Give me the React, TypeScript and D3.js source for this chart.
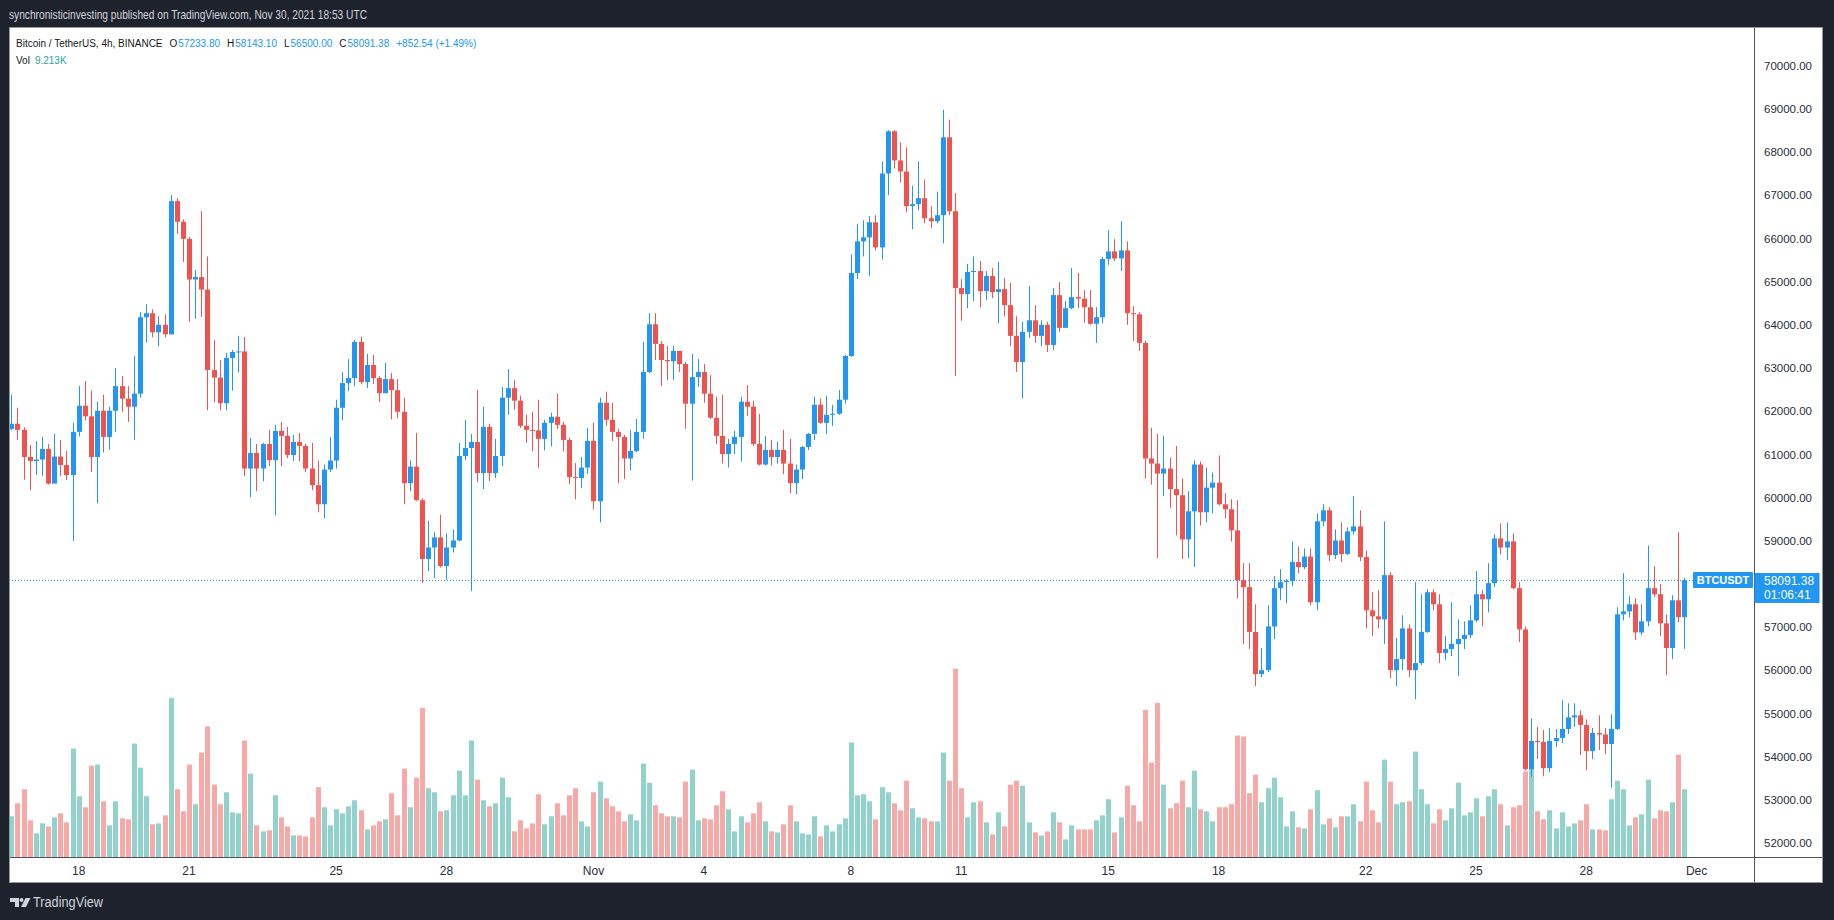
import React, { useEffect, useRef } from 'react';
import * as d3 from 'd3';

// BTC/USDT 4h bars from BINANCE, first bar Oct 16 2021 04:00 UTC, last bar Nov 30 16:00 UTC
const startTime = Date.UTC(2021, 9, 16, 4);
const barMs = 4 * 3600 * 1000;

const closes = [
  61711, 61571, 60943, 60849, 60884, 61129, 60326, 60954, 60756, 60524,
  61525, 62130, 61885, 60943, 62013, 61408, 62013, 62584, 62293, 62107,
  62409, 64179, 64272, 63829, 64004, 63783, 66867, 66390, 65994, 65052,
  65110, 64819, 62956, 62782, 62188, 63236, 63375, 63387, 60675, 61036,
  60675, 61245, 60873, 61548, 61431, 60989, 61292, 61199, 60675, 60291,
  59848, 60652, 60861, 62083, 62654, 62770, 63608, 62677, 63073, 62770,
  62421, 62747, 62491, 61990, 60337, 60721, 59942, 58580, 58847, 59080,
  58417, 58847, 59010, 60966, 61152, 61292, 60570, 61641, 60570, 60966,
  62316, 62537, 62246, 61664, 61571, 61560, 61362, 61734, 61874, 61688,
  61338, 60477, 60454, 60698, 61315, 59918, 62200, 61804, 61525, 61408,
  60908, 61082, 61525, 62910, 64016, 63562, 63189, 63160, 63399, 63096,
  62176, 62793, 62910, 62409, 61851, 61431, 61012, 61245, 61408, 62223,
  62107, 61245, 60768, 61106, 60943, 61106, 60791, 60337, 60652, 61175,
  61478, 62153, 61734, 61920, 61944, 62270, 63282, 65203, 65936, 66029,
  66378, 65796, 67508, 68485, 67810, 67554, 66751, 66798, 66937, 66472,
  66402, 66541, 68346, 66635, 64854, 64714, 65226, 65249, 64784, 65133,
  64761, 64830, 64458, 63748, 63143, 63841, 64109, 63748, 64004, 63538,
  64691, 63934, 64388, 64644, 64609, 64411, 64027, 64179, 65529, 65703,
  65540, 65727, 64272, 64248, 63585, 60908, 60791, 60558, 60675, 60198,
  60058, 59034, 59685, 60768, 59662, 60233, 60349, 59848, 59732, 59243,
  58091, 57928, 56892, 55914, 56007, 57020, 57905, 58044, 58068, 58510,
  58393, 58638, 57579, 59453, 59709, 58673, 59010, 58696, 59220, 59336,
  58626, 57392, 57253, 57183, 58207, 56007, 56263, 56973, 56007, 56170,
  56892, 57811, 57532, 56403, 56496, 56612, 56729, 56822, 57160, 57765,
  57648, 58021, 59057, 58847, 58987, 57905, 56950, 53714, 54366, 54343,
  53737, 54366, 54436, 54645, 54913, 54960, 54738, 54133, 54552, 54517,
  54296, 54645, 57299, 57369, 57532, 56880, 57136, 57905, 57765, 57090,
  56519, 57625, 57233.8, 58091.38,
];

const highs = [
  62386, 62083, 61629, 61222, 61315, 61408, 61245, 61478, 61338, 61082,
  61734, 62584, 62700, 62479, 62223, 62386, 62107, 63003, 62817, 62584,
  63282, 64295, 64481, 64365, 64202, 64248, 67007, 66937, 66448, 66041,
  65273, 66635, 65587, 63655, 63189, 63352, 63422, 63748, 63725, 61385,
  61245, 61269, 61571, 61688, 61757, 61641, 61455, 61501, 61245, 61269,
  60861, 60768, 61408, 62270, 62910, 63212, 63655, 63725, 63329, 63306,
  62817, 63119, 62886, 62747, 62316, 60861, 61501, 59988, 59464, 59197,
  59604, 59173, 59266, 61269, 61804, 61478, 62491, 62107, 61711, 61362,
  62561, 62980, 62724, 62363, 61920, 61990, 62270, 61804, 61967, 62409,
  61757, 61385, 60803, 60943, 61618, 61734, 62316, 62456, 62200, 61594,
  61455, 61571, 61827, 63608, 64272, 64272, 63631, 63515, 63515, 63399,
  63143, 63329, 63212, 63096, 62840, 62339, 62386, 61362, 61548, 62339,
  62607, 62246, 61944, 61431, 61338, 61292, 61571, 61362, 60768, 61199,
  61501, 62339, 62293, 62363, 62153, 62491, 63306, 65634, 66332, 66425,
  66518, 66541, 67787, 68509, 68509, 68229, 68113, 67228, 67787, 67368,
  66751, 67089, 68986, 68753, 67054, 65063, 65412, 65587, 65482, 65249,
  65319, 65459, 65086, 64970, 64202, 64074, 64900, 64458, 64109, 64074,
  64854, 64993, 64551, 65319, 65203, 64807, 64807, 64411, 65575, 66192,
  65983, 66402, 65936, 64435, 64295, 63631, 61618, 61478, 61431, 60931,
  61199, 60442, 60151, 60861, 60838, 60698, 60582, 60978, 60105, 59965,
  59942, 58486, 58486, 57532, 56519, 57509, 58184, 58347, 58114, 58987,
  58871, 58824, 58824, 59639, 59848, 59779, 59266, 59429, 59313, 60035,
  59709, 58777, 57811, 57858, 59453, 58277, 56752, 57276, 57066, 58044,
  57765, 57881, 57881, 57765, 56799, 57579, 57183, 57136, 57509, 58300,
  57858, 58486, 59150, 59406, 59429, 59173, 58044, 57020, 54890, 54692,
  54622, 54669, 54645, 55309, 55239, 55239, 55076, 54867, 54669, 54960,
  54669, 54983, 57462, 58254, 57718, 57672, 57532, 58894, 58417, 57998,
  57299, 57742, 59197, 58143.1,
];

const lows = [
  61560, 61338, 60419, 60174, 60524, 60500, 60302, 60337, 60500, 60407,
  58999, 61420, 61792, 60593, 59872, 61047, 61117, 61525, 61990, 61757,
  61338, 62316, 63597, 63713, 63503, 63713, 63783, 66111, 65459, 64074,
  64144, 64190, 62025, 62211, 62025, 62025, 62479, 62898, 60500, 60011,
  60151, 60384, 60733, 59592, 60733, 60919, 60849, 60849, 60593, 60174,
  59662, 59522, 60593, 60675, 61792, 62467, 62584, 62630, 62537, 62630,
  62211, 62421, 61816, 61839, 59848, 60151, 59930, 58021, 58300, 58137,
  58382, 58091, 58731, 58987, 60873, 57835, 60361, 60198, 60384, 60454,
  60733, 61920, 62037, 61618, 61269, 61071, 60698, 61094, 61187, 61594,
  61071, 60314, 59965, 60221, 60547, 59732, 59429, 61664, 61315, 60337,
  60430, 60628, 61059, 61362, 62886, 63189, 62584, 62724, 62724, 62910,
  61594, 60396, 62561, 62200, 61827, 61245, 60791, 60698, 61012, 60838,
  61897, 61199, 60745, 60745, 60745, 60791, 60547, 60105, 60081, 60430,
  61106, 61338, 61711, 61478, 61664, 61920, 62176, 63259, 65063, 65587,
  65133, 65727, 65517, 67007, 67624, 67298, 66611, 66216, 66658, 66355,
  66239, 66355, 65890, 66541, 62817, 64097, 64388, 64551, 64411, 64574,
  64621, 64039, 64202, 63515, 62910, 62304, 63701, 63585, 63515, 63375,
  63422, 63841, 63934, 64365, 64388, 64050, 64004, 63585, 64039, 65389,
  65482, 65249, 64004, 63631, 63399, 60442, 60302, 58603, 60035, 59755,
  59127, 58580, 58603, 58393, 59360, 59429, 59639, 59825, 59522, 58987,
  57672, 56612, 56496, 55635, 55844, 55961, 56729, 57625, 57555, 57951,
  58254, 58347, 57509, 57392, 59336, 58533, 58580, 58510, 58673, 59150,
  58533, 56973, 56799, 56973, 56612, 55821, 55635, 56007, 55844, 55332,
  56124, 56869, 57392, 56170, 56240, 56333, 55868, 56496, 56752, 57113,
  57020, 57346, 57928, 58684, 58556, 57881, 56659, 53679, 53528, 53947,
  53551, 53644, 54226, 54319, 54529, 54692, 54040, 53691, 53947, 54156,
  54063, 53283, 54622, 57160, 57229, 56706, 56822, 57020, 57695, 56799,
  55891, 56263, 57113, 56500,
];

// volume in thousands of BTC
const volumes = [
  5.53, 7.30, 9.21, 4.98, 3.21, 4.57, 4.16, 5.39, 5.94, 4.71,
  14.74, 8.26, 6.76, 12.42, 12.56, 7.57, 4.30, 7.57, 5.25, 5.12,
  15.42, 12.15, 8.26, 4.44, 4.57, 5.66, 21.63, 9.21, 6.21, 12.56,
  7.17, 14.19, 17.74, 9.83, 7.17, 8.80, 6.07, 5.94, 15.83, 11.33,
  4.30, 3.48, 3.62, 8.39, 5.39, 4.16, 2.93, 2.93, 2.80, 5.39,
  9.49, 6.76, 4.30, 6.48, 5.94, 6.89, 7.71, 6.35, 3.75, 4.30,
  4.85, 5.12, 8.67, 5.66, 12.01, 6.76, 10.78, 20.27, 9.35, 8.80,
  6.21, 6.35, 8.39, 11.74, 8.39, 15.83, 10.51, 7.71, 6.89, 7.30,
  10.78, 8.12, 3.48, 4.98, 3.89, 4.57, 8.53, 4.44, 5.53, 7.30,
  5.66, 8.39, 9.35, 4.85, 4.16, 8.80, 10.24, 7.98, 6.89, 6.21,
  4.85, 5.80, 4.98, 12.69, 10.10, 7.03, 5.94, 5.53, 5.53, 5.39,
  10.24, 11.87, 4.98, 5.25, 5.12, 7.03, 8.94, 6.48, 3.48, 5.53,
  4.71, 5.94, 7.44, 4.85, 3.48, 3.34, 4.44, 7.03, 4.85, 3.21,
  3.07, 5.53, 2.80, 4.30, 3.48, 4.44, 5.25, 15.56, 8.39, 8.53,
  7.57, 5.12, 9.49, 8.80, 7.30, 6.35, 10.37, 6.62, 5.39, 5.25,
  4.85, 4.85, 14.19, 10.37, 25.59, 9.35, 5.39, 7.44, 7.57, 4.71,
  3.07, 6.07, 4.16, 9.83, 10.37, 9.69, 4.71, 3.34, 2.93, 3.48,
  6.07, 4.71, 2.39, 4.30, 3.75, 3.75, 3.75, 4.98, 5.66, 7.85,
  3.34, 5.39, 9.69, 7.03, 4.85, 19.99, 12.83, 20.95, 9.83, 6.62,
  7.30, 10.37, 6.76, 11.74, 6.48, 6.21, 4.85, 6.76, 6.76, 7.17,
  16.51, 16.38, 8.67, 11.19, 7.44, 9.35, 10.78, 8.12, 4.16, 6.21,
  4.03, 3.89, 6.48, 9.08, 4.44, 5.25, 4.03, 5.53, 5.53, 7.17,
  4.85, 10.24, 6.35, 4.71, 13.24, 10.24, 7.17, 7.44, 7.57, 14.33,
  9.21, 7.17, 4.57, 6.48, 4.98, 6.62, 10.10, 5.66, 6.07, 7.98,
  5.53, 8.26, 9.21, 7.17, 4.30, 6.76, 7.03, 11.60, 12.69, 6.21,
  5.12, 6.35, 3.89, 6.07, 4.16, 4.57, 4.98, 7.17, 3.75, 3.75,
  3.62, 7.85, 10.37, 9.21, 4.30, 5.39, 5.80, 10.51, 5.25, 6.35,
  6.21, 7.44, 13.92, 9.213,
];

// 24/7 market: every bar opens where the previous one closed
const firstOpen = 61594;
const opens = [firstOpen, ...closes.slice(0, -1)];

const priceTicks = [
  52000, 53000, 54000, 55000, 56000, 57000, 58000, 59000, 60000, 61000,
  62000, 63000, 64000, 65000, 66000, 67000, 68000, 69000, 70000,
];

const timeTicks = [
  { date: Date.UTC(2021, 9, 18), label: '18' },
  { date: Date.UTC(2021, 9, 21), label: '21' },
  { date: Date.UTC(2021, 9, 25), label: '25' },
  { date: Date.UTC(2021, 9, 28), label: '28' },
  { date: Date.UTC(2021, 10, 1), label: 'Nov' },
  { date: Date.UTC(2021, 10, 4), label: '4' },
  { date: Date.UTC(2021, 10, 8), label: '8' },
  { date: Date.UTC(2021, 10, 11), label: '11' },
  { date: Date.UTC(2021, 10, 15), label: '15' },
  { date: Date.UTC(2021, 10, 18), label: '18' },
  { date: Date.UTC(2021, 10, 22), label: '22' },
  { date: Date.UTC(2021, 10, 25), label: '25' },
  { date: Date.UTC(2021, 10, 28), label: '28' },
  { date: Date.UTC(2021, 11, 1), label: 'Dec' },
];

// legend line, as printed on the snapshot
const symbolTitle = 'Bitcoin / TetherUS, 4h, BINANCE';
const legendOHLC = [
  { key: 'O', value: '57233.80' },
  { key: 'H', value: '58143.10' },
  { key: 'L', value: '56500.00' },
  { key: 'C', value: '58091.38' },
];
const legendChange = '+852.54 (+1.49%)';
const legendVolume = '9.213K';

const lastPrice = 58091.38;
const countdown = '01:06:41';

const W = 1834;
const H = 920;

const UP = '#2196f3';
const DOWN = '#ef5350';
const VOL_UP = 'rgba(38, 166, 154, 0.5)';
const VOL_DOWN = 'rgba(239, 83, 80, 0.5)';
const DARK = '#1e222d';
const TEXT = '#131722';
const AXIS_FONT = "'Liberation Sans', Arial, sans-serif";
const LEGEND_FONT = "'Liberation Sans Narrow', 'Liberation Sans', Arial, sans-serif";

type Piece = { text: string; fill: string; gap: number };

const CandleChart: React.FC = () => {
  const chartRef = useRef<SVGSVGElement | null>(null);

  useEffect(() => {
    if (!chartRef.current) return;
    document.body.style.margin = '0';

    const left = 9;
    const right = 1754;
    const top = 27;
    const bottom = 857;
    const frameRight = 1823;
    const frameBottom = 883;

    const n = closes.length;
    const bars = closes.map((c, i) => ({
      t: new Date(startTime + i * barMs),
      o: opens[i],
      h: highs[i],
      l: lows[i],
      c,
      v: volumes[i],
    }));

    const x = d3.scaleUtc()
      .domain([new Date(startTime), new Date(startTime + (n - 1) * barMs)])
      .range([11.3, 1684.3]);
    const y = d3.scaleLinear().domain([51680, 70900]).range([bottom, top]);
    const yVol = d3.scaleLinear().domain([0, 112.8]).range([bottom, top]);

    const svg = d3.select(chartRef.current);
    svg.selectAll('*').remove();

    svg.append('rect').attr('width', W).attr('height', H).attr('fill', DARK);
    svg.append('rect')
      .attr('x', left).attr('y', top)
      .attr('width', frameRight - left).attr('height', frameBottom - top)
      .attr('fill', '#ffffff');

    svg.append('defs').append('clipPath').attr('id', 'plot-clip')
      .append('rect')
      .attr('x', left).attr('y', top)
      .attr('width', right - left).attr('height', bottom - top);

    const plot = svg.append('g').attr('clip-path', 'url(#plot-clip)');
    const cx = (d: { t: Date }) => Math.round(x(d.t));

    // volume histogram
    plot.selectAll('rect.vol')
      .data(bars)
      .enter()
      .append('rect')
      .attr('class', 'vol')
      .attr('x', d => cx(d) - 2)
      .attr('y', d => yVol(d.v))
      .attr('width', 5)
      .attr('height', d => bottom - yVol(d.v))
      .attr('fill', d => (d.c >= d.o ? VOL_UP : VOL_DOWN));

    // last price dotted line
    const yLast = Math.round(y(lastPrice));
    plot.append('line')
      .attr('x1', left).attr('x2', right)
      .attr('y1', yLast + 0.5).attr('y2', yLast + 0.5)
      .attr('stroke', UP)
      .attr('stroke-width', 1)
      .attr('stroke-dasharray', '1 2');

    // candles
    const candles = plot.selectAll('g.candle')
      .data(bars)
      .enter()
      .append('g')
      .attr('class', 'candle')
      .attr('fill', d => (d.c >= d.o ? UP : DOWN));

    candles.append('rect')
      .attr('x', d => cx(d))
      .attr('y', d => y(d.h))
      .attr('width', 1)
      .attr('height', d => Math.max(1, y(d.l) - y(d.h)));

    candles.append('rect')
      .attr('x', d => cx(d) - 2)
      .attr('y', d => y(Math.max(d.o, d.c)))
      .attr('width', 5)
      .attr('height', d => Math.max(1, Math.abs(y(d.o) - y(d.c))));

    // axes separators and frame
    svg.append('line')
      .attr('x1', right + 0.5).attr('x2', right + 0.5)
      .attr('y1', top).attr('y2', frameBottom)
      .attr('stroke', '#50535e');
    svg.append('line')
      .attr('x1', left).attr('x2', frameRight)
      .attr('y1', bottom + 0.5).attr('y2', bottom + 0.5)
      .attr('stroke', '#50535e');
    svg.append('rect')
      .attr('x', left + 0.5).attr('y', top + 0.5)
      .attr('width', frameRight - left - 1).attr('height', frameBottom - top - 1)
      .attr('fill', 'none')
      .attr('stroke', '#9598a1');

    // price scale (the tick under the last-price tag is hidden, as on TradingView)
    svg.append('g')
      .selectAll('text')
      .data(priceTicks.filter(p => Math.abs(y(p) - yLast) > 18))
      .enter()
      .append('text')
      .attr('x', right + 10)
      .attr('y', d => y(d))
      .attr('dy', '0.35em')
      .attr('font-family', AXIS_FONT)
      .attr('font-size', 11.5)
      .attr('fill', '#2a2e39')
      .text(d => d.toFixed(2));

    // time scale
    svg.append('g')
      .selectAll('text')
      .data(timeTicks)
      .enter()
      .append('text')
      .attr('x', d => x(new Date(d.date)))
      .attr('y', 875)
      .attr('text-anchor', 'middle')
      .attr('font-family', AXIS_FONT)
      .attr('font-size', 12)
      .attr('fill', '#2a2e39')
      .text(d => d.label);

    // symbol tag on the price line
    svg.append('rect')
      .attr('x', 1693).attr('y', yLast - 8)
      .attr('width', 60).attr('height', 16)
      .attr('rx', 1)
      .attr('fill', UP);
    svg.append('text')
      .attr('x', 1723).attr('y', yLast + 4)
      .attr('text-anchor', 'middle')
      .attr('font-family', AXIS_FONT)
      .attr('font-size', 11)
      .attr('font-weight', 'bold')
      .attr('fill', '#ffffff')
      .text('BTCUSDT');

    // price tag on the axis
    svg.append('rect')
      .attr('x', right + 0.5).attr('y', yLast - 7)
      .attr('width', 65).attr('height', 30)
      .attr('fill', UP);
    const tag = svg.append('text')
      .attr('font-family', AXIS_FONT)
      .attr('font-size', 12)
      .attr('fill', '#ffffff');
    tag.append('tspan').attr('x', right + 10).attr('y', yLast + 5).text(lastPrice.toFixed(2));
    tag.append('tspan').attr('x', right + 10).attr('y', yLast + 19).text(countdown);

    // header
    svg.append('text')
      .attr('x', 9).attr('y', 19)
      .attr('font-family', LEGEND_FONT)
      .attr('font-size', 13)
      .attr('fill', '#d1d4dc')
      .attr('textLength', 358)
      .attr('lengthAdjust', 'spacingAndGlyphs')
      .text('synchronisticinvesting published on TradingView.com, Nov 30, 2021 18:53 UTC');

    // legend rows: pieces laid out one after another from their measured widths,
    // font size tuned so the first row spans about as wide as on the snapshot
    const layoutRow = (pieces: Piece[], yPos: number, size: number) => {
      const g = svg.append('g');
      const nodes = pieces.map(p => g.append('text')
        .attr('y', yPos)
        .attr('font-family', LEGEND_FONT)
        .attr('font-size', size)
        .attr('fill', p.fill)
        .text(p.text));
      let cursor = 16;
      nodes.forEach((node, i) => {
        node.attr('x', cursor);
        const w = (node.node() as SVGTextElement).getComputedTextLength();
        cursor += w + pieces[i].gap;
      });
      return { g, width: cursor - 16 - pieces[pieces.length - 1].gap };
    };

    const row1: Piece[] = [{ text: symbolTitle, fill: TEXT, gap: 7 }];
    legendOHLC.forEach(item => {
      row1.push({ text: item.key, fill: TEXT, gap: 1 });
      row1.push({ text: item.value, fill: UP, gap: 7 });
    });
    row1.push({ text: legendChange, fill: UP, gap: 0 });
    const gapsTotal = row1.reduce((s, p) => s + p.gap, 0);

    const probe = layoutRow(row1, 47, 12);
    probe.g.remove();
    const legendSize = Math.min(13, Math.max(10, 12 * (447 - gapsTotal) / (probe.width - gapsTotal)));
    layoutRow(row1, 47, legendSize);
    layoutRow(
      [
        { text: 'Vol', fill: TEXT, gap: 5 },
        { text: legendVolume, fill: '#26a69a', gap: 0 },
      ],
      64,
      legendSize,
    );

    // footer logo
    const logo = svg.append('g').attr('fill', '#d1d4dc');
    logo.append('path').attr('d', 'M10 898 h9 v9 h-4 v-5 h-5 z');
    logo.append('circle').attr('cx', 21.5).attr('cy', 900).attr('r', 2);
    logo.append('path').attr('d', 'M25.5 898 h5 l-4.5 9 h-5 z');
    svg.append('text')
      .attr('x', 33).attr('y', 907)
      .attr('font-family', AXIS_FONT)
      .attr('font-size', 14)
      .attr('fill', '#d1d4dc')
      .attr('textLength', 70)
      .attr('lengthAdjust', 'spacingAndGlyphs')
      .text('TradingView');
  }, []);

  return <svg ref={chartRef} width={W} height={H} style={{ display: 'block' }} />;
};

export default function App() {
  return <CandleChart />;
}
